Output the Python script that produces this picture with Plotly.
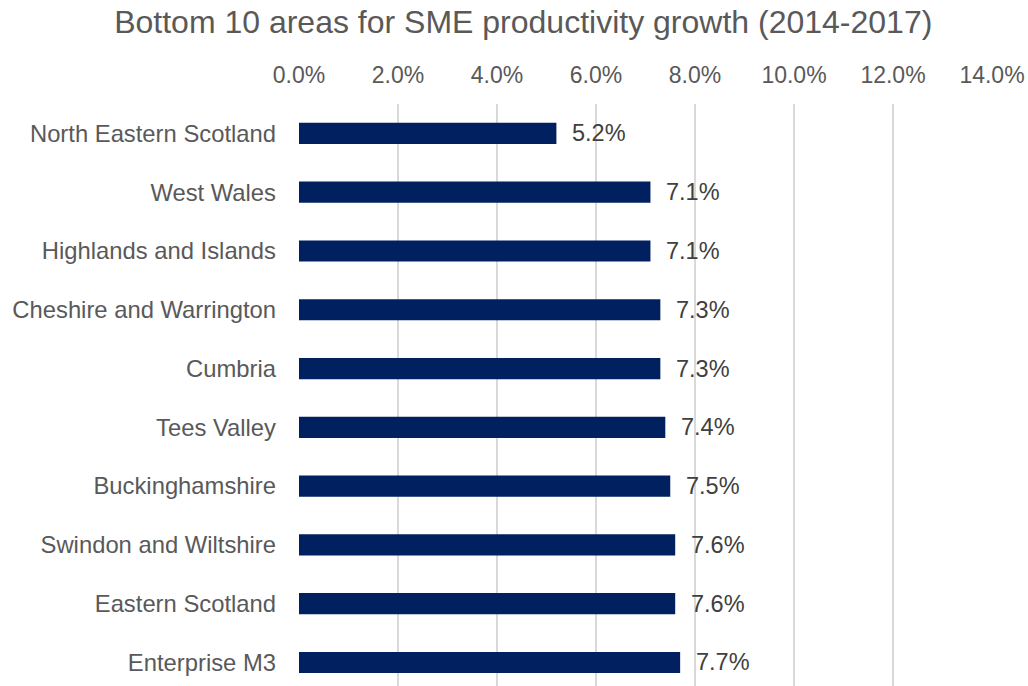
import plotly.graph_objects as go

areas = ["North Eastern Scotland", "West Wales", "Highlands and Islands",
         "Cheshire and Warrington", "Cumbria", "Tees Valley", "Buckinghamshire",
         "Swindon and Wiltshire", "Eastern Scotland", "Enterprise M3"]
growth = [5.2, 7.1, 7.1, 7.3, 7.3, 7.4, 7.5, 7.6, 7.6, 7.7]
title_text = "Bottom 10 areas for SME productivity growth (2014-2017)"

FONT = "Liberation Sans, Arial, sans-serif"

fig = go.Figure()
fig.add_trace(go.Bar(
    x=growth, y=areas, orientation="h",
    marker=dict(color="#002060", line=dict(width=0)),
    width=0.36, hoverinfo="skip",
))

for a, v in zip(areas, growth):
    fig.add_annotation(x=v, y=a, text=f"{v:.1f}%", showarrow=False,
                       xanchor="left", yanchor="middle", xshift=14,
                       font=dict(family=FONT, size=23.5, color="#404040"))

fig.update_layout(
    width=1028, height=686,
    margin=dict(l=299, r=36, t=104, b=0),
    paper_bgcolor="white", plot_bgcolor="white",
    showlegend=False,
    title=dict(text=title_text, x=0.509, xanchor="center", y=1 - 22 / 686, yanchor="middle",
               font=dict(family=FONT, size=32, color="#595959")),
    xaxis=dict(side="top", range=[0, 14], dtick=2, tickformat=".1f", ticksuffix="%",
               showgrid=True, gridcolor="#d9d9d9", gridwidth=2,
               zeroline=False, showline=False, ticks="",
               ticklabelstandoff=15,
               tickfont=dict(family=FONT, size=23, color="#595959")),
    yaxis=dict(categoryorder="array", categoryarray=areas, range=[9.40, -0.5],
               showgrid=False, zeroline=False, showline=False, ticks="",
               ticklabelstandoff=22,
               tickfont=dict(family=FONT, size=23.8, color="#595959")),
)

fig.write_html("out.html", config={"displayModeBar": False},
               post_script="document.body.style.margin='0';document.body.style.overflow='hidden';")
